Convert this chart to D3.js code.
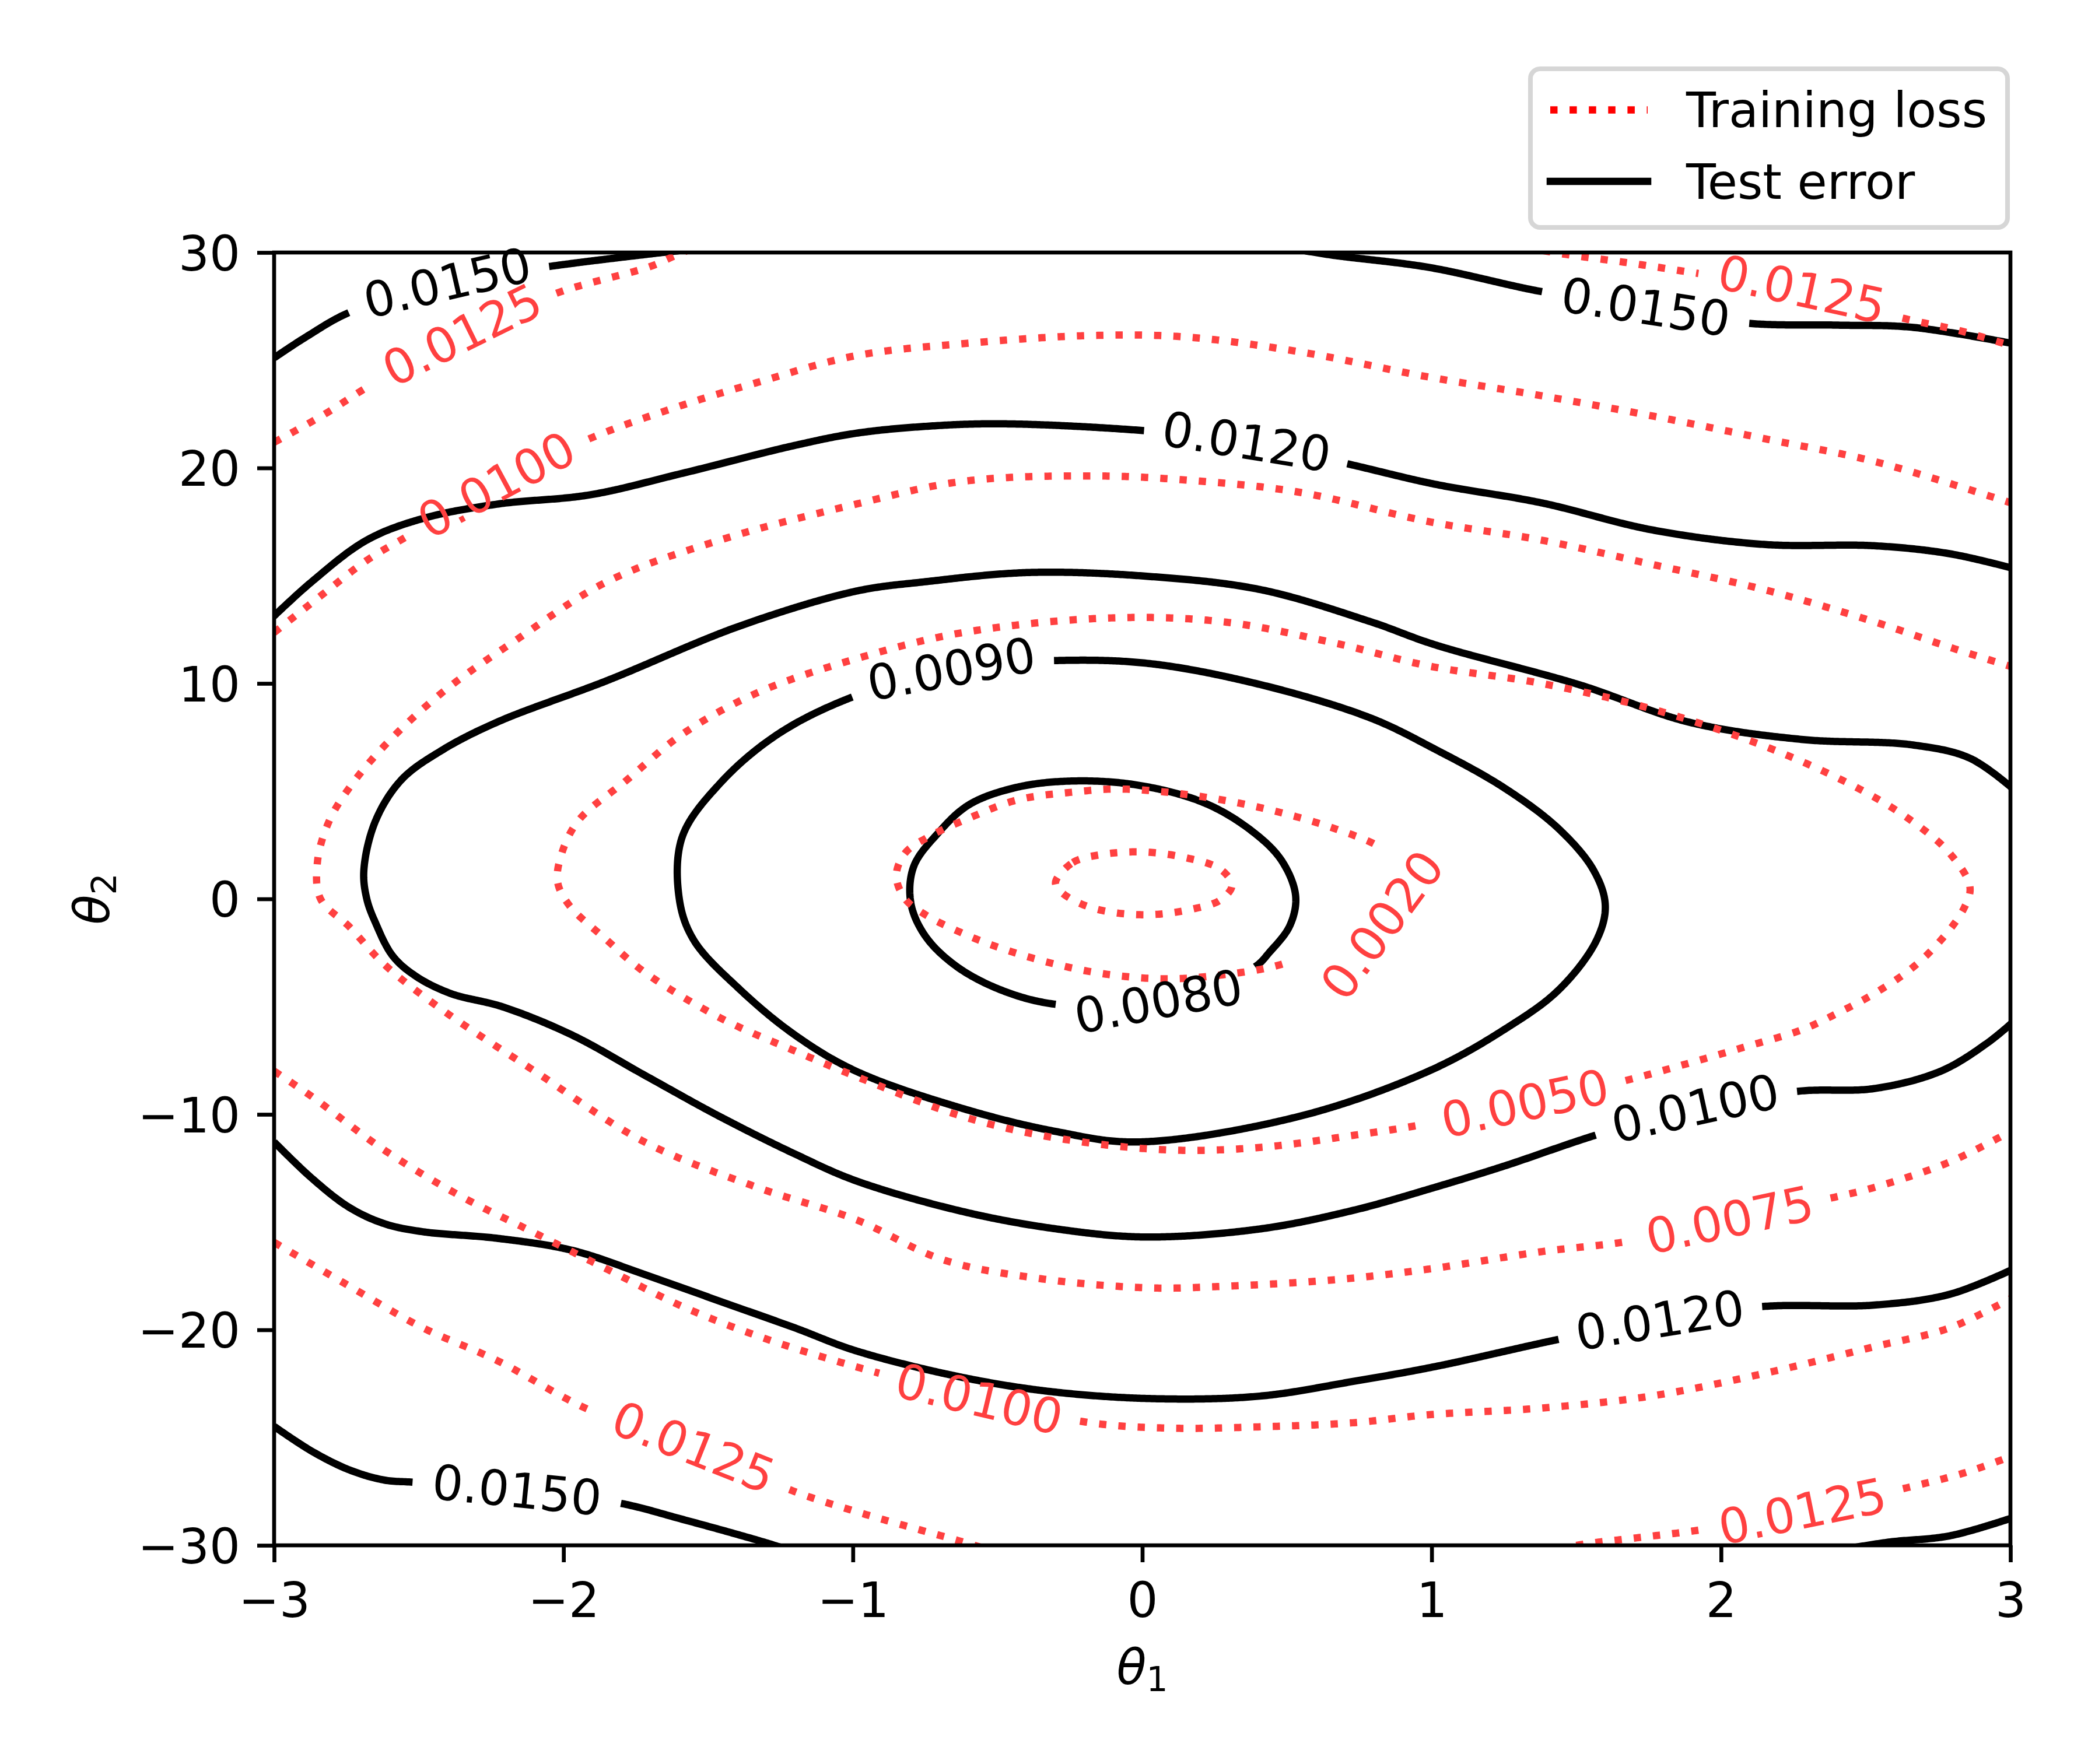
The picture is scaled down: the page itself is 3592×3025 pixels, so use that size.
<!DOCTYPE html>
<html>
<head>
<meta charset="utf-8">
<script src="https://cdn.jsdelivr.net/npm/d3@7"></script>
<style>
body { margin: 0; background: #fff; }
svg { display: block; }
</style>
</head>
<body>
<script>
// tick values
const xTicks = [-3, -2, -1, 0, 1, 2, 3];
const yTicks = [-30, -20, -10, 0, 10, 20, 30];

// Test error contours, [theta1, theta2]
const test0080 = [[-0.30,-4.89],[-0.48,-4.27],[-0.64,-3.15],[-0.75,-1.72],[-0.80,-0.17],[-0.79,1.50],[-0.71,2.99],[-0.60,4.36],[-0.44,5.16],[-0.25,5.47],[-0.02,5.29],[0.21,4.48],[0.37,3.24],[0.48,1.81],[0.53,0.14],[0.51,-1.24],[0.44,-2.47],[0.39,-3.15],[0.21,-4.21],[-0.02,-4.89]];
const test0090 = [[-1.00,9.38],[-0.66,10.69],[-0.31,11.06],[0.02,10.93],[0.41,9.94],[0.79,8.39],[1.01,6.96],[1.25,5.16],[1.44,3.24],[1.56,1.32],[1.60,-0.30],[1.57,-1.91],[1.44,-4.21],[1.25,-6.07],[0.99,-7.99],[0.54,-10.10],[-0.02,-11.28],[-0.30,-10.79],[-0.62,-9.73],[-0.99,-7.99],[-1.20,-6.32],[-1.39,-4.21],[-1.55,-1.91],[-1.60,0.01],[-1.59,2.87],[-1.46,5.35],[-1.26,7.64]];
const test0100 = [[3.01,5.10],[2.86,6.53],[2.66,7.15],[2.28,7.40],[1.89,8.20],[1.51,9.94],[1.01,11.80],[0.79,12.86],[0.41,14.35],[0.02,14.97],[-0.39,15.15],[-0.75,14.72],[-0.99,14.28],[-1.39,12.67],[-1.85,10.13],[-2.23,8.20],[-2.42,6.90],[-2.56,5.53],[-2.65,3.61],[-2.69,1.32],[-2.68,0.01],[-2.65,-1.10],[-2.59,-2.65],[-2.51,-3.59],[-2.39,-4.39],[-2.21,-5.01],[-1.97,-6.32],[-1.72,-8.18],[-1.46,-10.10],[-1.20,-11.84],[-0.99,-13.08],[-0.62,-14.51],[-0.30,-15.31],[0.01,-15.69],[0.41,-15.31],[0.73,-14.45],[1.01,-13.39],[1.25,-12.40],[1.58,-10.91],[1.92,-9.67],[2.27,-8.92],[2.53,-8.80],[2.76,-7.99],[2.92,-6.69],[3.01,-5.70]];
const test0120a = [[-3.03,12.75],[-2.87,14.72],[-2.68,16.65],[-2.49,17.64],[-2.23,18.32],[-1.91,18.75],[-1.59,19.75],[-1.20,21.05],[-0.99,21.61],[-0.75,21.93],[-0.49,22.05],[0.00,21.74],[0.36,21.24],[0.71,20.19],[1.01,19.25],[1.38,18.38],[1.76,17.13],[2.15,16.45],[2.53,16.39],[2.79,16.02],[3.01,15.34]];
const test0120b = [[-3.00,-11.28],[-2.87,-12.96],[-2.74,-14.32],[-2.62,-15.07],[-2.49,-15.44],[-2.23,-15.75],[-1.97,-16.31],[-1.72,-17.43],[-1.46,-18.67],[-1.20,-19.91],[-0.99,-20.97],[-0.62,-22.21],[-0.30,-22.89],[0.06,-23.20],[0.41,-23.07],[0.73,-22.39],[1.01,-21.71],[1.45,-20.41],[1.79,-19.53],[2.15,-18.91],[2.53,-18.85],[2.79,-18.35],[3.01,-17.18]];
const test0150a = [[-3.00,25.11],[-2.89,26.08],[-2.74,27.22],[-2.40,28.62],[-2.05,29.35],[-1.69,29.95],[-1.54,30.17]];
const test0150b = [[0.49,30.25],[0.65,29.89],[0.99,29.31],[1.39,28.16],[1.74,27.49],[2.09,26.72],[2.40,26.63],[2.66,26.53],[3.01,25.77]];
const test0150c = [[-3.00,-24.48],[-2.87,-25.63],[-2.74,-26.50],[-2.62,-26.97],[-2.52,-27.07],[-2.16,-27.42],[-1.81,-28.03],[-1.59,-28.79],[-1.31,-29.84],[-1.18,-30.39]];
const test0150d = [[2.43,-30.17],[2.58,-29.85],[2.79,-29.56],[3.01,-28.71]];

// Training loss contours
const train0010 = [[-0.30,0.76],[-0.24,1.69],[-0.14,2.06],[0.00,2.18],[0.14,1.94],[0.27,1.38],[0.31,0.63],[0.27,-0.05],[0.17,-0.48],[0.03,-0.73],[-0.11,-0.61],[-0.21,-0.24],[-0.28,0.32]];
const train0020 = [[0.83,2.31],[0.67,3.24],[0.41,4.23],[0.15,4.85],[-0.08,5.10],[-0.23,4.97],[-0.43,4.60],[-0.59,3.80],[-0.74,2.87],[-0.82,2.12],[-0.85,1.07],[-0.82,0.01],[-0.75,-0.73],[-0.62,-1.60],[-0.49,-2.28],[-0.30,-3.03],[-0.11,-3.52],[0.09,-3.71],[0.28,-3.52],[0.45,-3.15],[0.56,-2.66],[0.72,-1.79],[0.86,-0.92],[0.91,0.14],[0.89,1.32]];
const train0050 = [[-0.98,11.18],[-1.33,9.57],[-1.59,7.64],[-1.78,5.53],[-1.95,3.61],[-2.01,1.94],[-2.02,0.76],[-1.98,-0.30],[-1.85,-1.91],[-1.72,-3.40],[-1.46,-5.51],[-1.20,-7.06],[-1.00,-8.18],[-0.62,-10.10],[-0.30,-11.09],[0.09,-11.65],[0.41,-11.53],[0.73,-10.97],[0.97,-10.47],[1.32,-9.48],[1.67,-8.43],[1.89,-7.62],[2.08,-6.88],[2.28,-6.07],[2.40,-5.32],[2.53,-4.39],[2.66,-3.21],[2.76,-1.91],[2.84,-0.42],[2.86,0.57],[2.79,2.12],[2.66,3.61],[2.47,5.16],[2.15,7.09],[1.76,8.82],[1.38,10.00],[0.99,10.81],[0.67,11.86],[0.28,12.86],[-0.11,13.04],[-0.62,12.36]];
const train0075 = [[3.01,10.75],[2.79,11.68],[2.53,12.86],[2.15,14.35],[1.76,15.53],[1.38,16.65],[0.99,17.51],[0.54,18.88],[0.15,19.44],[-0.17,19.63],[-0.62,19.38],[-0.99,18.32],[-1.46,16.65],[-1.85,14.72],[-2.16,12.05],[-2.42,9.57],[-2.62,7.09],[-2.74,5.16],[-2.81,3.61],[-2.85,1.75],[-2.84,0.01],[-2.74,-1.29],[-2.62,-3.03],[-2.42,-5.14],[-2.10,-7.99],[-1.72,-11.28],[-1.33,-13.39],[-0.99,-14.88],[-0.69,-16.74],[-0.36,-17.61],[0.02,-18.05],[0.28,-17.98],[0.67,-17.67],[0.99,-17.18],[1.38,-16.37],[1.69,-15.87],[2.03,-14.88],[2.42,-13.76],[2.53,-13.39],[2.79,-12.21],[3.01,-10.72]];
const train0100a = [[-3.00,12.36],[-2.83,14.16],[-2.68,15.71],[-2.54,16.83],[-2.23,19.25],[-1.91,21.36],[-1.59,22.91],[-1.33,23.97],[-0.99,25.21],[-0.62,25.77],[-0.17,26.15],[0.15,26.08],[0.54,25.40],[0.99,24.22],[1.38,23.35],[1.76,22.42],[2.15,21.36],[2.53,20.30],[2.96,18.56],[3.03,18.25]];
const train0100b = [[-3.00,-7.99],[-2.87,-9.17],[-2.62,-11.65],[-2.36,-13.76],[-2.10,-15.50],[-1.85,-17.18],[-1.59,-18.91],[-1.33,-20.28],[-0.99,-21.71],[-0.56,-23.20],[-0.18,-24.31],[0.09,-24.56],[0.41,-24.50],[0.73,-24.31],[0.99,-23.94],[1.38,-23.63],[1.76,-23.07],[2.15,-22.02],[2.53,-20.78],[2.79,-19.91],[3.01,-18.48]];
const train0125a = [[-3.00,21.19],[-2.83,22.46],[-2.66,23.90],[-2.35,26.20],[-2.02,28.13],[-1.70,29.35],[-1.62,29.82],[-1.50,30.51]];
const train0125b = [[1.32,30.25],[1.45,29.94],[1.68,29.52],[1.92,29.03],[2.28,28.31],[2.62,26.98],[2.82,26.39],[2.98,25.77],[3.03,25.58]];
const train0125c = [[-3.00,-15.94],[-2.74,-17.97],[-2.49,-19.88],[-2.23,-21.42],[-1.91,-23.72],[-1.55,-25.43],[-1.21,-27.46],[-0.98,-28.47],[-0.58,-30.00],[-0.44,-30.60]];
const train0125d = [[1.37,-30.42],[1.50,-30.00],[1.71,-29.65],[1.93,-29.28],[2.28,-28.41],[2.66,-27.27],[2.85,-26.60],[3.01,-25.83]];

// inline labels: text, theta1, theta2
const testLabels = [
  ["0.0150", -2.40, 28.62],
  ["0.0150", 1.74, 27.49],
  ["0.0150", -2.16, -27.42],
  ["0.0120", 0.36, 21.27],
  ["0.0120", 1.79, -19.50],
  ["0.0100", 1.91, -9.67],
  ["0.0090", -0.66, 10.72],
  ["0.0080", 0.06, -4.85]
];
const trainLabels = [
  ["0.0125", -2.35, 26.20],
  ["0.0125", 2.28, 28.31],
  ["0.0125", -1.55, -25.43],
  ["0.0125", 2.28, -28.41],
  ["0.0100", -2.23, 19.25],
  ["0.0100", -0.56, -23.13],
  ["0.0075", 2.03, -14.88],
  ["0.0050", 1.32, -9.48],
  ["0.0020", 0.83, -1.23]
];

const testContours = [
  {level: "0.0080", closed: true, pts: test0080},
  {level: "0.0090", closed: true, pts: test0090},
  {level: "0.0100", closed: false, pts: test0100},
  {level: "0.0120", closed: false, pts: test0120a},
  {level: "0.0120", closed: false, pts: test0120b},
  {level: "0.0150", closed: false, pts: test0150a},
  {level: "0.0150", closed: false, pts: test0150b},
  {level: "0.0150", closed: false, pts: test0150c},
  {level: "0.0150", closed: false, pts: test0150d}
];
const trainContours = [
  {level: "0.0010", closed: true, pts: train0010},
  {level: "0.0020", closed: true, pts: train0020},
  {level: "0.0050", closed: true, pts: train0050},
  {level: "0.0075", closed: false, pts: train0075},
  {level: "0.0100", closed: false, pts: train0100a},
  {level: "0.0100", closed: false, pts: train0100b},
  {level: "0.0125", closed: false, pts: train0125a},
  {level: "0.0125", closed: false, pts: train0125b},
  {level: "0.0125", closed: false, pts: train0125c},
  {level: "0.0125", closed: false, pts: train0125d}
];

const W = 3592, H = 3025;
const margin = {left: 470, right: 145, top: 433, bottom: 375};
const fs = 83.3;
const lw = 12.5;
const red = "#ff4040";

const svg = d3.select("body").append("svg")
  .attr("width", W).attr("height", H)
  .style("font-family", "'DejaVu Sans'");

svg.append("rect").attr("width", W).attr("height", H).attr("fill", "#fff");

const x = d3.scaleLinear().domain([-3, 3]).range([margin.left, W - margin.right]);
const y = d3.scaleLinear().domain([-30, 30]).range([H - margin.bottom, margin.top]);

svg.append("clipPath").attr("id", "plot-clip")
  .append("rect")
  .attr("x", x(-3)).attr("y", y(30))
  .attr("width", x(3) - x(-3)).attr("height", y(-30) - y(30));

// sample each smoothed contour so labels can cut gaps along its length
function buildPieces(list) {
  const tmp = svg.append("path").attr("fill", "none");
  const out = list.map(c => {
    const gen = d3.line().x(d => x(d[0])).y(d => y(d[1]))
      .curve(c.closed ? d3.curveCatmullRomClosed : d3.curveCatmullRom);
    tmp.attr("d", gen(c.pts));
    const node = tmp.node();
    const len = node.getTotalLength();
    const n = Math.max(2, Math.ceil(len / 3));
    const samples = d3.range(n + 1).map(i => {
      const s = len * i / n, p = node.getPointAtLength(s);
      return [p.x, p.y, s];
    });
    return {level: c.level, closed: c.closed, len: len, samples: samples, gaps: []};
  });
  tmp.remove();
  return out;
}

function pointAt(pc, s) {
  if (pc.closed) s = ((s % pc.len) + pc.len) % pc.len;
  else s = Math.max(0, Math.min(pc.len, s));
  const i = Math.round(s / pc.len * (pc.samples.length - 1));
  return pc.samples[i];
}

function placeLabels(layer, pieces, labels, color) {
  labels.forEach(([txt, a, b]) => {
    const px = x(a), py = y(b);
    let best = null;
    pieces.filter(pc => pc.level === txt).forEach(pc => pc.samples.forEach(sm => {
      const d = (sm[0] - px) ** 2 + (sm[1] - py) ** 2;
      if (!best || d < best.d) best = {d: d, pc: pc, sm: sm};
    }));
    const t = layer.append("text")
      .attr("font-size", fs)
      .attr("fill", color)
      .attr("text-anchor", "middle")
      .attr("dy", "0.36em")
      .text(txt);
    const w = t.node().getComputedTextLength();
    const half = (w + 62) / 2;
    const p0 = pointAt(best.pc, best.sm[2] - half);
    const p1 = pointAt(best.pc, best.sm[2] + half);
    let ang = Math.atan2(p1[1] - p0[1], p1[0] - p0[0]) * 180 / Math.PI;
    if (ang > 90) ang -= 180;
    if (ang < -90) ang += 180;
    t.attr("transform", `translate(${best.sm[0]},${best.sm[1]}) rotate(${ang})`);
    best.pc.gaps.push([best.sm[2], half]);
  });
}

function drawPieces(layer, pieces, style) {
  pieces.forEach(pc => {
    const inGap = s => pc.gaps.some(([c, h]) => {
      let d = Math.abs(s - c);
      if (pc.closed) d = Math.min(d, pc.len - d);
      return d < h;
    });
    const runs = [];
    let cur = [];
    pc.samples.forEach(sm => {
      if (inGap(sm[2])) { if (cur.length > 1) runs.push(cur); cur = []; }
      else cur.push(sm);
    });
    if (cur.length > 1) runs.push(cur);
    if (pc.closed && runs.length > 1 && !inGap(0)) {
      const last = runs.pop();
      runs[0] = last.concat(runs[0]);
    }
    const full = pc.closed && pc.gaps.length === 0;
    runs.forEach(r => {
      layer.append("path")
        .attr("d", d3.line()(r.map(p => [p[0], p[1]])) + (full ? "Z" : ""))
        .call(style);
    });
  });
}

const testPieces = buildPieces(testContours);
const trainPieces = buildPieces(trainContours);

const blackLines = svg.append("g").attr("clip-path", "url(#plot-clip)");
const redLines = svg.append("g").attr("clip-path", "url(#plot-clip)");
const blackText = svg.append("g");
const redText = svg.append("g");

placeLabels(blackText, testPieces, testLabels, "#000");
placeLabels(redText, trainPieces, trainLabels, red);

const solidStyle = sel => sel.attr("fill", "none").attr("stroke", "#000")
  .attr("stroke-width", lw).attr("stroke-linejoin", "round");
const dotStyle = sel => sel.attr("fill", "none").attr("stroke", red)
  .attr("stroke-width", lw).attr("stroke-dasharray", "12.5 20.6")
  .attr("stroke-linecap", "butt");

drawPieces(blackLines, testPieces, solidStyle);
drawPieces(redLines, trainPieces, dotStyle);

// axes
const fmt = d => d < 0 ? "\u2212" + Math.abs(d) : String(d);

const xAxis = svg.append("g")
  .attr("transform", `translate(0,${y(-30)})`)
  .call(d3.axisBottom(x).tickValues(xTicks).tickSize(29).tickPadding(29).tickFormat(fmt));
xAxis.select(".domain").remove();
xAxis.attr("font-size", fs).attr("font-family", "'DejaVu Sans'");
xAxis.selectAll("line").attr("stroke", "#000").attr("stroke-width", 6.67);
xAxis.selectAll("text").attr("fill", "#000").attr("dy", "0.78em");

const yAxis = svg.append("g")
  .attr("transform", `translate(${x(-3)},0)`)
  .call(d3.axisLeft(y).tickValues(yTicks).tickSize(29).tickPadding(29).tickFormat(fmt));
yAxis.select(".domain").remove();
yAxis.attr("font-size", fs).attr("font-family", "'DejaVu Sans'");
yAxis.selectAll("line").attr("stroke", "#000").attr("stroke-width", 6.67);
yAxis.selectAll("text").attr("fill", "#000").attr("dy", "0.36em");

svg.append("rect")
  .attr("x", x(-3)).attr("y", y(30))
  .attr("width", x(3) - x(-3)).attr("height", y(-30) - y(30))
  .attr("fill", "none").attr("stroke", "#000").attr("stroke-width", 6.67)
  .attr("stroke-linejoin", "miter");

// axis labels
const xLabel = svg.append("text")
  .attr("x", (x(-3) + x(3)) / 2).attr("y", 2888)
  .attr("text-anchor", "middle").attr("font-size", fs);
xLabel.append("tspan").attr("font-style", "italic").text("\u03b8");
xLabel.append("tspan").attr("font-size", fs * 0.7).attr("dy", 12).text("1");

const yLabel = svg.append("text")
  .attr("transform", `translate(187,${(y(-30) + y(30)) / 2}) rotate(-90)`)
  .attr("text-anchor", "middle").attr("font-size", fs);
yLabel.append("tspan").attr("font-style", "italic").text("\u03b8");
yLabel.append("tspan").attr("font-size", fs * 0.7).attr("dy", 12).text("2");

// legend
const legend = svg.append("g");
legend.append("rect")
  .attr("x", 2624).attr("y", 118).attr("width", 818).attr("height", 272)
  .attr("rx", 16.6).attr("ry", 16.6)
  .attr("fill", "#fff").attr("stroke", "#d6d6d6").attr("stroke-width", 8);

const legendItems = [
  {name: "Training loss", color: "#ff0000", dash: "12.5 20.6", cap: "butt"},
  {name: "Test error", color: "#000", dash: null, cap: "square"}
];
legendItems.forEach((it, i) => {
  const cy = 188.5 + i * 122.5;
  legend.append("line")
    .attr("x1", 2658).attr("x2", 2825).attr("y1", cy).attr("y2", cy)
    .attr("stroke", it.color).attr("stroke-width", lw)
    .attr("stroke-dasharray", it.dash).attr("stroke-linecap", it.cap);
  legend.append("text")
    .attr("x", 2891).attr("y", cy + 29.5)
    .attr("font-size", fs).attr("fill", "#000")
    .text(it.name);
});
</script>
</body>
</html>
